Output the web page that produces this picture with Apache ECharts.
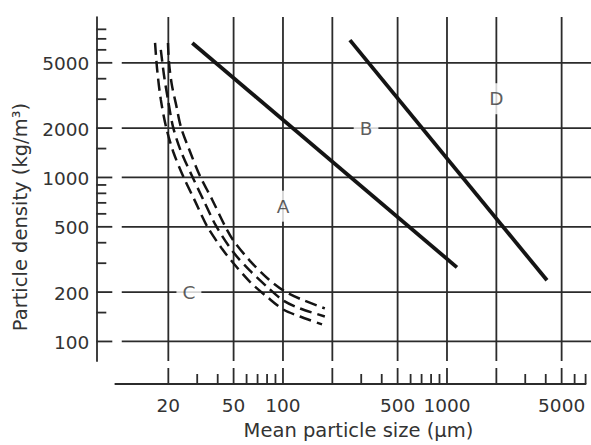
<!DOCTYPE html>
<html>
<head>
<meta charset="utf-8">
<script src="https://cdn.jsdelivr.net/npm/echarts@6/dist/echarts.min.js"></script>
<style>
  html, body { margin: 0; padding: 0; background: #fff; }
  #chart { width: 591px; height: 445px; }
</style>
</head>
<body>
<div id="chart"></div>
<script>
// Powder classification map: particle density against mean particle size (log-log)

// Axis scaffolding values
const sizeGridValues = [20, 50, 100, 200, 500, 1000, 2000, 5000];
const sizeMinorTicks = [30, 40, 60, 70, 80, 90, 300, 400, 600, 700, 800, 900, 3000, 4000, 6000, 7000];
const sizeTickLabels = [20, 50, 100, 500, 1000, 5000];
const densityGridValues = [100, 200, 500, 1000, 2000, 5000];
const densityMinorTicks = [150, 300, 400, 600, 700, 800, 900, 1500, 3000, 4000, 6000, 7000, 8000];
const densityTickLabels = [100, 200, 500, 1000, 2000, 5000];

// A/B boundary (solid)
const abSize = [28, 1150];
const abDensity = [6600, 283];

// B/D boundary (solid)
const bdSize = [256, 4070];
const bdDensity = [6880, 236];

// C/A transition band (three dashed curves)
const caUpperSize    = [19.9, 20.2, 21.0, 22.3, 23.9, 27.1, 31.2, 36.9, 44.3, 49.6, 62.9, 81.0, 101, 127, 180];
const caUpperDensity = [6610, 5000, 3680, 2780, 2020, 1440, 1020, 737, 506, 416, 310, 241, 204, 182, 159];
const caMiddleSize    = [18.0, 18.8, 19.9, 21.4, 23.9, 27.9, 33.0, 39.1, 49.6, 62.9, 81.0, 101, 127, 180];
const caMiddleDensity = [6000, 4230, 2980, 2020, 1440, 1020, 717, 506, 352, 270, 213, 177, 159, 142];
const caLowerSize    = [16.6, 17.1, 18.0, 19.4, 21.4, 24.6, 29.1, 34.4, 42.5, 49.6, 62.9, 81.0, 101, 127, 173];
const caLowerDensity = [6610, 4540, 2980, 2020, 1440, 1020, 717, 506, 367, 302, 231, 185, 156, 142, 127];

// Group letters
const groupNames = ['A', 'B', 'C', 'D'];
const groupSize = [100, 321, 26.7, 2000];
const groupDensity = [668, 2000, 200, 3020];

// Axis extents
const SIZE_MIN = 9.5, SIZE_MAX = 7000;
const DENSITY_MIN = 76, DENSITY_MAX = 9500;
const GRID_ROW_START = 10.4;   // size at which horizontal rules begin

// Styling
const FONT = 'DejaVu Sans, Verdana, sans-serif';
const TEXT_COLOR = '#333';
const RULE_COLOR = '#2b2b2b';
const INK = '#141414';
const Y_AXIS_SHIFT = 19;
const X_AXIS_SHIFT = 23;
const MAJOR_TICK = 16;
const MINOR_TICK = 10;

const zip = (xs, ys) => xs.map((x, i) => [x, ys[i]]);

function verticalRule(params, api) {
  const v = api.value(0);
  const a = api.coord([v, DENSITY_MAX]);
  const b = api.coord([v, DENSITY_MIN]);
  return { type: 'line', shape: { x1: a[0], y1: a[1], x2: b[0], y2: b[1] },
           style: { stroke: RULE_COLOR, lineWidth: 1.8 } };
}
function horizontalRule(params, api) {
  const v = api.value(1);
  const a = api.coord([GRID_ROW_START, v]);
  return { type: 'line', shape: { x1: a[0], y1: a[1], x2: api.getWidth(), y2: a[1] },
           style: { stroke: RULE_COLOR, lineWidth: 1.8 } };
}
function sizeTick(len) {
  return function (params, api) {
    const v = api.value(0);
    const x = api.coord([v, DENSITY_MIN])[0];
    const base = params.coordSys.y + params.coordSys.height + X_AXIS_SHIFT;
    return { type: 'line', shape: { x1: x, y1: base, x2: x, y2: base - len },
             style: { stroke: RULE_COLOR, lineWidth: 1.8 } };
  };
}
function densityTick(len) {
  return function (params, api) {
    const v = api.value(1);
    const y = api.coord([SIZE_MIN, v])[1];
    const base = params.coordSys.x - Y_AXIS_SHIFT;
    return { type: 'line', shape: { x1: base, y1: y, x2: base + len, y2: y },
             style: { stroke: RULE_COLOR, lineWidth: 1.8 } };
  };
}
function sizeLabel(params, api) {
  const v = api.value(0);
  const x = api.coord([v, DENSITY_MIN])[0];
  const base = params.coordSys.y + params.coordSys.height + X_AXIS_SHIFT;
  return { type: 'text', x: x, y: base + 21,
           style: { text: String(v), fill: TEXT_COLOR, fontSize: 18.5, fontFamily: FONT,
                    align: 'center', verticalAlign: 'middle' } };
}
function densityLabel(params, api) {
  const v = api.value(1);
  const y = api.coord([SIZE_MIN, v])[1];
  const base = params.coordSys.x - Y_AXIS_SHIFT;
  return { type: 'text', x: base - 7, y: y + 1,
           style: { text: String(v), fill: TEXT_COLOR, fontSize: 18.5, fontFamily: FONT,
                    align: 'right', verticalAlign: 'middle' } };
}

const customBase = { type: 'custom', silent: true, animation: false, clip: false,
                     encode: { x: 0, y: 1 } };

const boundaryStyle = { color: INK, width: 3.8, cap: 'butt' };
const bandStyle = { color: INK, width: 2.5, type: [12, 6] };

const chart = echarts.init(document.getElementById('chart'), null, { renderer: 'svg' });
chart.setOption({
  animation: false,
  backgroundColor: '#fff',
  grid: { left: 115.3, right: 5.4, top: 17.1, bottom: 82.4 },
  xAxis: {
    type: 'log', logBase: 10, min: SIZE_MIN, max: SIZE_MAX, offset: X_AXIS_SHIFT,
    axisLine: { show: true, onZero: false, lineStyle: { color: RULE_COLOR, width: 1.8 } },
    axisTick: { show: false }, axisLabel: { show: false }, splitLine: { show: false },
    name: 'Mean particle size (μm)', nameLocation: 'middle', nameGap: 36,
    nameTextStyle: { color: TEXT_COLOR, fontSize: 19.5, fontFamily: FONT, padding: [0, 0, 0, 16] }
  },
  yAxis: {
    type: 'log', logBase: 10, min: DENSITY_MIN, max: DENSITY_MAX, offset: Y_AXIS_SHIFT,
    axisLine: { show: true, onZero: false, lineStyle: { color: RULE_COLOR, width: 1.8 } },
    axisTick: { show: false }, axisLabel: { show: false }, splitLine: { show: false },
    name: 'Particle density (kg/m³)', nameLocation: 'middle', nameGap: 66,
    nameTextStyle: { color: TEXT_COLOR, fontSize: 19.5, fontFamily: FONT, padding: [0, 56, 0, 0] }
  },
  series: [
    Object.assign({}, customBase, { name: 'size rules', renderItem: verticalRule,
      data: sizeGridValues.map(v => [v, DENSITY_MIN]) }),
    Object.assign({}, customBase, { name: 'density rules', renderItem: horizontalRule,
      data: densityGridValues.map(v => [SIZE_MIN, v]) }),
    Object.assign({}, customBase, { name: 'size major ticks', renderItem: sizeTick(MAJOR_TICK),
      data: sizeGridValues.map(v => [v, DENSITY_MIN]) }),
    Object.assign({}, customBase, { name: 'size minor ticks', renderItem: sizeTick(MINOR_TICK),
      data: sizeMinorTicks.map(v => [v, DENSITY_MIN]) }),
    Object.assign({}, customBase, { name: 'density major ticks', renderItem: densityTick(MAJOR_TICK),
      data: densityGridValues.map(v => [SIZE_MIN, v]) }),
    Object.assign({}, customBase, { name: 'density minor ticks', renderItem: densityTick(MINOR_TICK),
      data: densityMinorTicks.map(v => [SIZE_MIN, v]) }),
    Object.assign({}, customBase, { name: 'size labels', renderItem: sizeLabel,
      data: sizeTickLabels.map(v => [v, DENSITY_MIN]) }),
    Object.assign({}, customBase, { name: 'density labels', renderItem: densityLabel,
      data: densityTickLabels.map(v => [SIZE_MIN, v]) }),
    { type: 'line', name: 'A/B', data: zip(abSize, abDensity), symbol: 'none',
      lineStyle: boundaryStyle, z: 5 },
    { type: 'line', name: 'B/D', data: zip(bdSize, bdDensity), symbol: 'none',
      lineStyle: boundaryStyle, z: 5 },
    { type: 'line', name: 'C/A upper', data: zip(caUpperSize, caUpperDensity), symbol: 'none',
      smooth: 0.3, lineStyle: bandStyle, z: 5 },
    { type: 'line', name: 'C/A middle', data: zip(caMiddleSize, caMiddleDensity), symbol: 'none',
      smooth: 0.3, lineStyle: bandStyle, z: 5 },
    { type: 'line', name: 'C/A lower', data: zip(caLowerSize, caLowerDensity), symbol: 'none',
      smooth: 0.3, lineStyle: bandStyle, z: 5 },
    { type: 'scatter', name: 'groups', z: 10, symbolSize: 1,
      itemStyle: { color: 'rgba(0,0,0,0)' },
      data: groupNames.map((n, i) => ({ name: n, value: [groupSize[i], groupDensity[i]] })),
      label: { show: true, position: 'inside', formatter: '{b}', color: TEXT_COLOR,
               fontSize: 18.5, fontFamily: FONT, backgroundColor: '#fff', padding: [6, 6] } }
  ]
});
</script>
</body>
</html>
